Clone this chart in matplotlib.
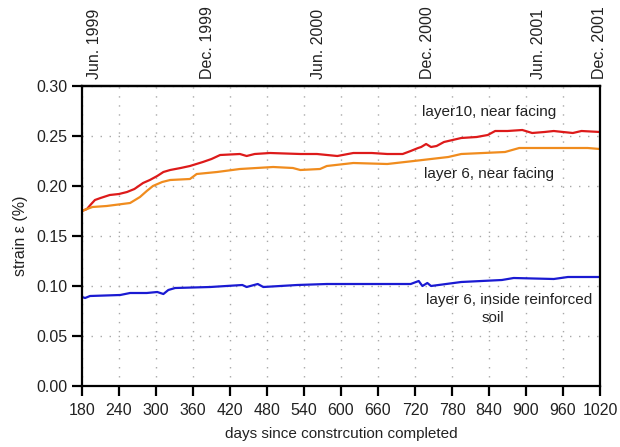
import matplotlib.pyplot as plt

plt.rcParams['font.family'] = ['Liberation Sans', 'DejaVu Sans']

# layer 10, near facing
days_l10 = [180, 188, 195, 201, 210, 225, 240, 253, 265, 279, 290, 302, 312, 323, 340,
            355, 376, 390, 404, 436, 447, 460, 485, 534, 561, 594, 620, 650, 675, 700,
            713, 725, 730, 738, 746, 755, 767, 795, 820, 838, 850, 870, 894, 910, 930,
            945, 960, 976, 990, 1020]
strain_l10 = [0.175, 0.177, 0.182, 0.186, 0.188, 0.191, 0.192, 0.194, 0.197, 0.203, 0.206,
              0.210, 0.214, 0.216, 0.218, 0.220, 0.224, 0.227, 0.231, 0.232, 0.230, 0.232,
              0.233, 0.232, 0.232, 0.230, 0.233, 0.233, 0.232, 0.232, 0.235, 0.238, 0.239,
              0.242, 0.239, 0.240, 0.244, 0.248, 0.249, 0.251, 0.255, 0.255, 0.256, 0.253,
              0.254, 0.255, 0.254, 0.253, 0.255, 0.254]

# layer 6, near facing
days_l6 = [180, 188, 197, 220, 258, 274, 285, 295, 310, 323, 355, 366, 399, 436, 490,
           522, 534, 566, 577, 620, 675, 718, 774, 795, 866, 889, 1000, 1020]
strain_l6 = [0.175, 0.177, 0.179, 0.180, 0.183, 0.189, 0.195, 0.200, 0.204, 0.206, 0.207,
             0.212, 0.214, 0.217, 0.219, 0.218, 0.216, 0.217, 0.220, 0.223, 0.222, 0.225,
             0.229, 0.232, 0.234, 0.238, 0.238, 0.237]

# layer 6, inside reinforced soil
days_l6in = [180, 185, 193, 242, 258, 285, 302, 312, 320, 331, 388, 440, 447, 465, 474,
             529, 577, 631, 713, 726, 732, 740, 746, 795, 861, 880, 945, 968, 1020]
strain_l6in = [0.089, 0.088, 0.090, 0.091, 0.093, 0.093, 0.094, 0.092, 0.096, 0.098, 0.099,
               0.101, 0.099, 0.102, 0.099, 0.101, 0.102, 0.102, 0.102, 0.105, 0.100, 0.103,
               0.100, 0.104, 0.106, 0.108, 0.107, 0.109, 0.109]

x_ticks = list(range(180, 1021, 60))
y_ticks = [0.00, 0.05, 0.10, 0.15, 0.20, 0.25, 0.30]
date_pos = [201, 383, 563, 740, 920, 1020]
date_labels = ['Jun. 1999', 'Dec. 1999', 'Jun. 2000', 'Dec. 2000', 'Jun. 2001', 'Dec. 2001']

text_col = '#222222'

fig = plt.figure(figsize=(6.2, 4.47), dpi=100)
ax = fig.add_axes([82 / 620, 1 - 386 / 447, 518 / 620, 300 / 447])

ax.plot(days_l10, strain_l10, color='#dd1a1a', lw=1.6)
ax.plot(days_l6, strain_l6, color='#f08c1e', lw=1.6)
ax.plot(days_l6in, strain_l6in, color='#1a1ad2', lw=1.6)

ax.set_xlim(180, 1020)
ax.set_ylim(0, 0.30)
ax.set_xticks(x_ticks)
ax.set_yticks(y_ticks)
ax.set_yticklabels([f'{v:.2f}' for v in y_ticks])
ax.grid(True, color='#a8a8a8', linestyle=(0, (1, 5.5)), lw=1.0)
for s in ax.spines.values():
    s.set_linewidth(1.6)
ax.tick_params(length=7.5, width=1.6, labelsize=11.5, pad=3, labelcolor=text_col)
ax.tick_params(axis='x', pad=5)

ax.set_xlabel('days since constrcution completed', fontsize=11, labelpad=6, color=text_col)
ax.set_ylabel('strain ε (%)', fontsize=11.5, labelpad=6, color=text_col)

top = ax.secondary_xaxis('top')
top.set_xticks(date_pos)
top.set_xticklabels(date_labels, rotation=90, fontsize=11.5, color=text_col)
top.tick_params(length=0, pad=5)
top.spines['top'].set_linewidth(1.6)

ax.text(841, 0.274, 'layer10, near facing', ha='center', va='center', fontsize=11, color=text_col)
ax.text(840, 0.212, 'layer 6, near facing', ha='center', va='center', fontsize=11, color=text_col)
ax.text(872, 0.086, 'layer 6, inside reinforced', ha='center', va='center',
        fontsize=11, color=text_col)
ax.text(847, 0.068, 'soil', ha='center', va='center', fontsize=11, color=text_col)

fig.savefig('out.png', dpi=100)
